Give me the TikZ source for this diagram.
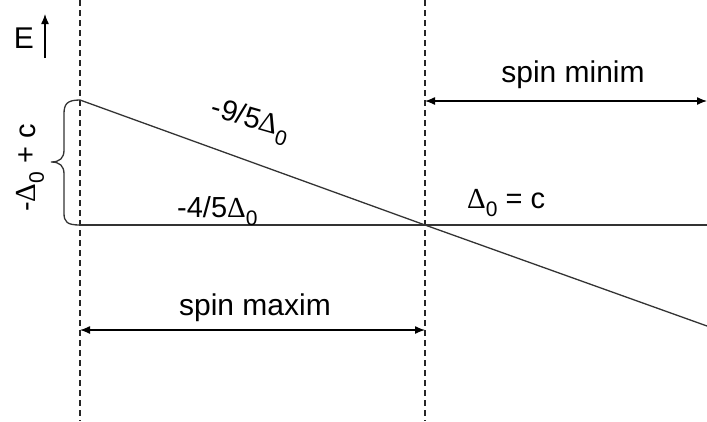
\documentclass[tikz,border=0pt]{standalone}
\usepackage{fontspec}
\setmainfont{Liberation Sans}
\newfontfamily\grk{Liberation Serif}
\usetikzlibrary{arrows.meta}
\newcommand{\Dz}{{\grk Δ}\raisebox{-0.3em}{\fontsize{21}{21}\selectfont 0}}
\tikzset{
  ln/.style={draw=black!80, line width=1.3pt},
  dsh/.style={draw=black!85, line width=1.3pt, dash pattern=on 6pt off 4pt},
  dim/.style={draw=black, line width=1.3pt, {Latex[length=10pt,width=8pt]}-{Latex[length=10pt,width=8pt]}},
  lab/.style={inner sep=0pt, font=\fontsize{29}{32}\selectfont},
  big/.style={inner sep=0pt, font=\fontsize{30}{34}\selectfont},
}
\begin{document}
\begin{tikzpicture}[x=1pt,y=-1pt]
\useasboundingbox (0,0) rectangle (707,421);
% coordinates
\coordinate (LT) at (80,0);
\coordinate (LB) at (80,421);
\coordinate (RT) at (425,0);
\coordinate (RB) at (425,421);
\coordinate (A) at (80,100);
\coordinate (B) at (80,225);
\coordinate (X) at (425,225);
\coordinate (Hend) at (707,225);
\coordinate (Send) at (707,326);
\coordinate (M1) at (425,101);
\coordinate (M2) at (707,101);
\coordinate (N1) at (80,330);
\coordinate (N2) at (425,330);
\coordinate (E1) at (45,58);
\coordinate (E2) at (45,14);
% dashed verticals
\draw[dsh] (LT) -- (LB);
\draw[dsh] (RT) -- (RB);
% level lines
\draw[ln] (B) -- (Hend);
\draw[ln] (A) -- (X) -- (Send);
% brace
\draw[ln] (A) .. controls (67,100) and (64,104) .. (64,114) -- (64,150)
  .. controls (64,158) and (60,162) .. (51,162)
  .. controls (60,162) and (64,166) .. (64,174) -- (64,213)
  .. controls (64,222) and (67,225) .. (B);
% dimension arrows
\draw[dim] (M1) -- (M2);
\draw[dim] (N1) -- (N2);
\draw[line width=1.3pt, -{Latex[length=10pt,width=8pt]}] (E1) -- (E2);
% labels
\node[inner sep=0pt, font=\fontsize{30}{32}\selectfont, anchor=base] (E) at (24,48) {E};
\node[big, anchor=base] (smin) at (573,82) {spin minim};
\node[big, anchor=base] (smax) at (255,315) {spin maxim};
\node[lab, anchor=base west] (l45) at (177,217) {-4/5\Dz};
\node[lab, anchor=base west] (ldc) at (467,208) {\Dz\ = c};
\node[lab, rotate=-16] (l95) at (250,121) {-9/5\Dz};
\node[lab, rotate=90] (lbr) at (30,168) {-\Dz\ + c};
\end{tikzpicture}
\end{document}
